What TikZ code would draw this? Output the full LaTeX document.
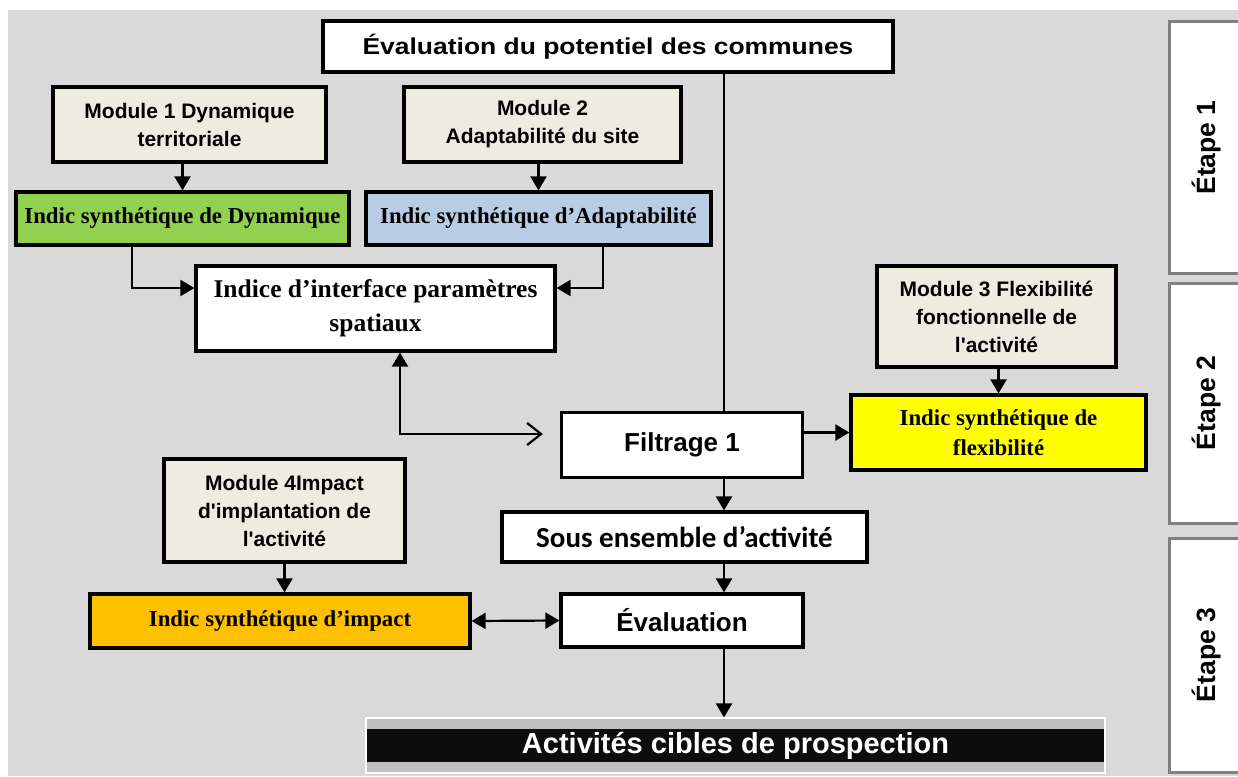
\documentclass[tikz,border=0pt]{standalone}
\usepackage{fontspec}
\setmainfont{Liberation Sans}
\newfontfamily\arialfont{Liberation Sans}
\newfontfamily\widefont[FakeStretch=1.15]{Liberation Sans}
\newfontfamily\cambfont{Liberation Serif}
\newfontfamily\calibfont{Carlito}
\usetikzlibrary{positioning,arrows.meta,calc}
\definecolor{bggray}{HTML}{D9D9D9}
\definecolor{modbeige}{HTML}{EEECE1}
\definecolor{dyngreen}{HTML}{92D050}
\definecolor{adablue}{HTML}{B8CCE4}
\definecolor{flexyellow}{HTML}{FFFF00}
\definecolor{imporange}{HTML}{FFC000}
\definecolor{stepgray}{HTML}{808080}
\definecolor{bandgray}{HTML}{BFBFBF}
\definecolor{bandblack}{HTML}{0D0D0D}

\begin{document}
\begin{tikzpicture}[x=1pt, y=-1pt,
  box/.style={draw=black, line width=3.2pt, align=center, inner sep=0pt},
  modbox/.style={box, fill=modbeige, font=\arialfont\bfseries\fontsize{21}{28}\selectfont},
  indicbox/.style={box, font=\cambfont\bfseries\fontsize{22.8}{30}\selectfont},
  mainbox/.style={box, fill=white, font=\arialfont\bfseries\fontsize{26}{30}\selectfont},
  etapebox/.style={draw=stepgray, line width=3pt, fill=white, rotate=90, inner sep=0pt,
    font=\arialfont\bfseries\fontsize{26.5}{30}\selectfont},
  arr/.style={line width=2.2pt, -{Triangle[length=14pt,width=16pt]}},
  plainline/.style={line width=2.2pt}
]
\useasboundingbox (0,0) rectangle (1238,776);
\fill[bggray] (8,10) rectangle (1238,776);

% stages on the right
\node[etapebox, minimum width=251pt, minimum height=74pt] (et1) at (1206,147.5) {Étape 1};
\node[etapebox, minimum width=240pt, minimum height=74pt] (et2) at (1206,403) {Étape 2};
\node[etapebox, minimum width=234pt, minimum height=74pt] (et3) at (1206,655) {Étape 3};

% boxes
\node[mainbox, font=\widefont\bfseries\fontsize{23}{30}\selectfont,
  minimum width=570pt, minimum height=51pt] (eval) at (608,46.5) {\raisebox{-4pt}{Évaluation du potentiel des communes}};
\node[modbox, minimum width=273pt, minimum height=75pt] (mod1) at (189.5,124.5) {Module 1 Dynamique\\territoriale};
\node[modbox, minimum width=277pt, minimum height=75pt] (mod2) at (542.5,124.5) {Module 2\\Adaptabilité du site};
\node[indicbox, fill=dyngreen, minimum width=333pt, minimum height=53pt] (isdyn) at (182.5,218.5) {Indic synthétique de Dynamique};
\node[indicbox, fill=adablue, minimum width=345pt, minimum height=53pt] (isada) at (538.5,218.5) {Indic synthétique d’Adaptabilité};
\node[indicbox, fill=white, font=\cambfont\bfseries\fontsize{25.5}{34}\selectfont,
  minimum width=359pt, minimum height=85pt] (iface) at (375.5,308.5) {Indice d’interface paramètres\\spatiaux};
\node[modbox, minimum width=239pt, minimum height=101pt] (mod3) at (996.5,316.5) {Module 3 Flexibilité\\fonctionnelle de\\l\textquotesingle activité};
\node[indicbox, fill=flexyellow, minimum width=295pt, minimum height=75pt] (isflex) at (998.5,432.5) {Indic synthétique de\\flexibilité};
\node[mainbox, minimum width=241pt, minimum height=65pt] (filt) at (682,445) {Filtrage 1};
\node[mainbox, font=\calibfont\bfseries\fontsize{29}{30}\selectfont,
  minimum width=365pt, minimum height=50pt] (sous) at (684.5,537) {Sous ensemble d’activité};
\node[mainbox, minimum width=242pt, minimum height=53pt] (evalb) at (682,620.5) {Évaluation};
\node[modbox, minimum width=241pt, minimum height=103pt] (mod4) at (284.5,510.5) {Module 4Impact\\d\textquotesingle implantation de\\l\textquotesingle activité};
\node[indicbox, fill=imporange, minimum width=380pt, minimum height=54pt] (isimp) at (280,621) {Indic synthétique d’impact};
\node[draw=white, line width=1.2pt, fill=bandgray, minimum width=739pt, minimum height=55pt] (actibg) at (735.5,745.5) {};
\node[fill=bandblack, text=white, inner sep=0pt, minimum width=737pt, minimum height=33pt,
  font=\arialfont\bfseries\fontsize{29}{30}\selectfont] (acti) at (actibg) {Activités cibles de prospection};

% connectors
\coordinate (spine) at (724,0);
\coordinate (dynx) at (132,0);
\coordinate (adax) at (603,0);
\coordinate (ifx) at (400,0);
\draw[plainline] (eval.south -| spine) -- (filt.north -| spine);
\draw[arr] (filt.south -| spine) -- (sous.north -| spine);
\draw[arr] (sous.south -| spine) -- (evalb.north -| spine);
\draw[arr] (evalb.south -| spine) -- (actibg.north -| spine);
\draw[arr] (mod1.south -| isdyn.north) -- (isdyn.north);
\draw[arr] (mod2.south -| isada.north) -- (isada.north);
\draw[arr] (mod3.south -| isflex.north) -- (isflex.north);
\draw[arr] (mod4.south) -- (isimp.north -| mod4.south);
\draw[arr] (isdyn.south -| dynx) |- ([yshift=20.5pt]iface.west);
\draw[arr] (isada.south -| adax) |- ([yshift=20.5pt]iface.east);
\draw[plainline, {Triangle[length=14pt,width=16pt]}-{Straight Barb[length=14pt,width=22pt]}]
  (iface.south -| ifx) |- ([xshift=-17pt,yshift=11pt]filt.west);
\draw[arr] (filt.east |- isflex.west) -- (isflex.west);
\draw[plainline, {Triangle[length=14pt,width=16pt]}-{Triangle[length=14pt,width=16pt]}] (isimp.east) -- (evalb.west);

\end{tikzpicture}
\end{document}
